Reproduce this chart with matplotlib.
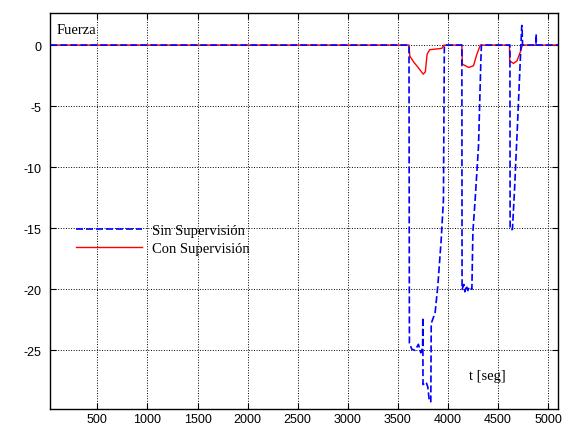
import matplotlib
matplotlib.use('Agg')
import matplotlib.pyplot as plt

# "Sin Supervision" (blue dashed) breakpoints
t_sin = [30, 3612, 3616, 3640, 3673, 3706, 3730, 3748, 3750, 3752, 3783, 3800, 3816, 3830,
         3834, 3873, 3900, 3933, 3956, 3965, 4140, 4142, 4160, 4170, 4185, 4200, 4215, 4240,
         4250, 4273, 4306, 4330, 4335, 4620, 4622, 4645, 4665, 4695, 4722, 4738, 4741, 4746,
         4880, 4882, 4884, 5100]
f_sin = [0, 0, -24.4, -24.9, -25.0, -24.5, -25.2, -24.8, -22.3, -27.8, -27.6, -28.0, -29.2, -29.2,
         -22.8, -21.9, -19.7, -16.0, -12.7, 0, 0, -20.0, -19.6, -20.2, -19.7, -20.1, -19.8, -20.0,
         -15.3, -12.6, -8.3, -1.2, 0, 0, -15.1, -15.1, -12.0, -6.6, -1.5, 1.6, 1.6, 0,
         0, 0.9, 0, 0]

# "Con Supervision" (red solid)
t_con = [30, 3612, 3620, 3660, 3700, 3754, 3775, 3793, 3819, 3940, 3962,
         4140, 4145, 4207, 4256, 4290, 4316, 4325,
         4615, 4618, 4655, 4690, 4722, 4745, 5100]
f_con = [0, 0, -0.9, -1.4, -1.8, -2.38, -2.2, -0.74, -0.38, -0.27, 0,
         0, -1.56, -1.83, -1.7, -0.74, -0.19, 0,
         0, -1.29, -1.5, -1.3, -0.6, 0, 0]

x_ticks = [500, 1000, 1500, 2000, 2500, 3000, 3500, 4000, 4500, 5000]
y_ticks = [0, -5, -10, -15, -20, -25]

serif = 'Liberation Serif'
plt.rcParams['font.family'] = 'Liberation Sans'
plt.rcParams['font.size'] = 9
plt.rcParams['axes.unicode_minus'] = False

fig = plt.figure(figsize=(5.73, 4.27), dpi=100)
ax = fig.add_axes([50 / 573, 17 / 427, 508 / 573, 396.4 / 427])

l_con, = ax.plot(t_con, f_con, color='red', lw=1.0)
l_sin, = ax.plot(t_sin, f_sin, color='blue', lw=1.2, dashes=(4.2, 1.8))

ax.set_xlim(27, 5100)
ax.set_ylim(-29.8, 2.66)
ax.set_xticks(x_ticks)
ax.set_yticks(y_ticks)
ax.grid(True, color='black', linestyle=':', linewidth=0.7)
ax.set_axisbelow(True)
ax.tick_params(direction='in', top=True, right=True, length=4, width=0.8,
               labelsize=9, colors='black')
ax.tick_params(axis='y', pad=6)
ax.tick_params(axis='x', pad=3)
for s in ax.spines.values():
    s.set_linewidth(1.0)

ax.text(0.013, 0.975, 'Fuerza', transform=ax.transAxes, family=serif, fontsize=10.5,
        ha='left', va='top')
ax.text(0.825, 0.085, 't [seg]', transform=ax.transAxes, family=serif, fontsize=10.5,
        ha='left', va='center')

ax.legend([l_sin, l_con], ['Sin Supervisión', 'Con Supervisión'],
          loc='upper left', bbox_to_anchor=(0.051, 0.466), frameon=False,
          borderpad=0, borderaxespad=0, handlelength=4.5, handletextpad=0.7,
          labelspacing=0.3, prop={'family': serif, 'size': 10.5})

fig.savefig('out.png', dpi=100)
